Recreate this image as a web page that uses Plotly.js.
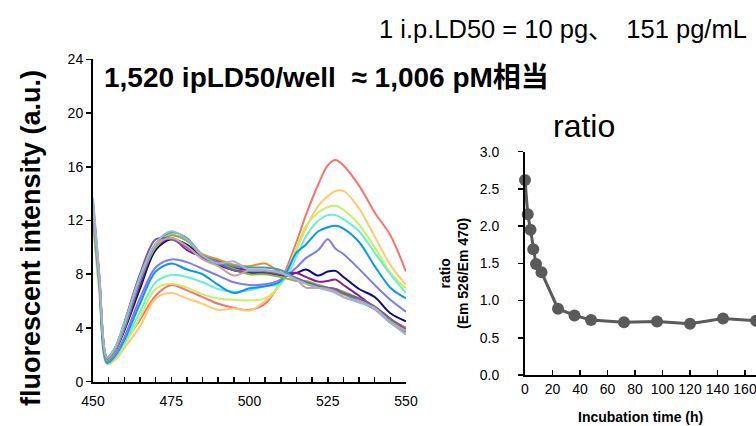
<!DOCTYPE html>
<html><head><meta charset="utf-8">
<script src="https://cdn.plot.ly/plotly-3.0.1.min.js"></script>
<style>html,body{margin:0;padding:0;background:#fff}#chart{width:756px;height:426px}</style>
</head><body><div id="chart"></div>
<script>
// ---- spectra (left panel) ----
const wavelength = [450, 452, 454.5, 457, 460, 465, 470, 475, 480, 485, 490, 495, 500, 505, 510, 515, 518, 522, 525, 527.5, 530, 535, 540, 545, 550];
const spec_0h   = [12.4, 7.0, 1.5, 1.9, 2.9, 4.6, 6.4, 7.2, 6.8, 6.3, 5.8, 5.5, 5.35, 5.8, 7.5, 10.4, 12.4, 14.7, 16.1, 16.5, 16.1, 14.6, 12.6, 10.9, 8.2];
const spec_2h   = [12.0, 6.8, 1.3, 1.6, 2.5, 4.1, 6.2, 6.6, 6.2, 5.8, 5.35, 5.45, 5.3, 6.0, 7.3, 9.8, 11.4, 13.1, 13.8, 14.2, 14.2, 12.9, 10.8, 8.7, 7.2];
const spec_4h   = [11.8, 6.7, 1.3, 1.7, 2.7, 4.8, 6.9, 7.3, 7.0, 6.5, 6.2, 6.1, 6.05, 6.2, 7.3, 10.0, 11.6, 12.6, 13.0, 13.1, 12.8, 11.7, 10.0, 8.1, 6.95];
const spec_6h   = [12.2, 7.0, 1.4, 1.8, 2.9, 5.2, 7.4, 7.95, 7.8, 7.4, 6.9, 6.7, 6.8, 7.1, 7.3, 9.3, 10.8, 12.0, 12.4, 12.4, 12.1, 11.2, 9.6, 8.0, 6.6];
const spec_8h   = [12.8, 7.3, 1.4, 1.9, 3.1, 5.8, 8.2, 8.8, 8.35, 8.0, 7.2, 6.6, 6.95, 7.1, 7.5, 9.6, 10.2, 11.2, 11.5, 11.6, 11.4, 10.4, 8.6, 7.0, 6.2];
const spec_12h  = [13.0, 7.5, 1.5, 2.0, 3.3, 6.2, 8.5, 9.1, 8.9, 8.4, 7.9, 7.4, 7.2, 7.25, 7.6, 8.5, 9.2, 9.8, 10.6, 9.9, 9.5, 8.4, 7.2, 6.1, 5.2];
const spec_24h  = [13.3, 7.9, 1.7, 2.3, 3.8, 6.9, 9.8, 10.6, 10.2, 9.3, 8.7, 8.3, 8.1, 8.1, 7.9, 8.1, 8.35, 7.9, 8.2, 8.25, 7.8, 6.9, 6.3, 5.1, 4.5];
const spec_36h  = [13.0, 7.7, 1.7, 2.3, 3.9, 7.2, 10.0, 10.7, 9.8, 9.3, 9.0, 8.5, 8.3, 8.2, 8.0, 8.1, 7.8, 7.45, 7.5, 7.6, 7.2, 6.4, 5.5, 4.6, 4.0];
const spec_48h  = [13.2, 7.9, 1.8, 2.5, 4.3, 7.9, 10.0, 10.9, 10.5, 9.5, 9.1, 8.7, 8.6, 8.8, 8.1, 7.7, 7.3, 7.0, 6.9, 6.7, 6.5, 6.0, 5.4, 4.6, 4.0];
const spec_72h  = [12.0, 7.2, 1.6, 2.3, 4.0, 7.5, 10.0, 10.9, 10.5, 9.3, 8.8, 8.4, 8.0, 8.0, 7.8, 7.5, 7.5, 7.2, 7.0, 6.9, 6.7, 6.2, 5.6, 4.6, 3.8];
const spec_96h  = [12.6, 7.5, 1.7, 2.4, 4.1, 7.6, 10.2, 11.1, 10.7, 9.4, 8.9, 8.6, 8.5, 8.5, 8.3, 7.7, 7.4, 7.1, 6.9, 6.8, 6.6, 6.0, 5.4, 4.4, 3.7];
const spec_120h = [13.0, 7.7, 1.8, 2.5, 4.4, 8.0, 10.6, 10.6, 10.0, 9.2, 8.8, 8.3, 8.2, 8.2, 8.0, 7.7, 7.4, 7.1, 7.0, 6.9, 6.6, 6.2, 5.6, 4.7, 3.9];
const spec_144h = [12.8, 7.6, 1.8, 2.5, 4.3, 7.8, 10.2, 10.7, 10.1, 9.1, 8.6, 7.9, 8.3, 8.3, 8.1, 7.6, 7.0, 7.0, 6.9, 6.7, 6.3, 6.0, 5.4, 4.4, 3.8];
const spec_168h = [13.7, 8.1, 1.8, 2.5, 4.3, 7.8, 10.3, 11.2, 10.6, 9.4, 8.8, 8.95, 8.3, 8.3, 8.1, 7.6, 7.3, 7.0, 6.8, 6.6, 6.3, 5.9, 5.5, 4.4, 3.5];

const seriesNames = ['0 h','2 h','4 h','6 h','8 h','12 h','24 h','36 h','48 h','72 h','96 h','120 h','144 h','168 h'];
const seriesData = [spec_0h, spec_2h, spec_4h, spec_6h, spec_8h, spec_12h, spec_24h, spec_36h, spec_48h, spec_72h, spec_96h, spec_120h, spec_144h, spec_168h];
const seriesColors = ['#f7736c','#ffc872','#c6f064','#66f0cc','#0a96f0','#7b7bf2','#0c0c8a','#8c1e8c','#f08a2a','#8cb43e','#3ea2b6','#7a5c9c','#c9a2a2','#9ab6d6'];

// ---- ratio (right panel) ----
const incubationTime = [0, 2, 4, 6, 8, 12, 24, 36, 48, 72, 96, 120, 144, 168];
const ratioValues = [2.62, 2.16, 1.95, 1.69, 1.49, 1.38, 0.89, 0.80, 0.74, 0.71, 0.72, 0.69, 0.76, 0.73];

const W = 756, H = 426;
const px = x => x / W, py = y => 1 - y / H;
const FONT = 'Liberation Sans, Arial, Helvetica, Noto Sans CJK JP, sans-serif';

const traces = seriesData.map((d, i) => ({
  x: wavelength, y: d, type: 'scatter', mode: 'lines', name: seriesNames[i],
  line: {color: seriesColors[i], width: 2, shape: 'spline', smoothing: 0.9},
  xaxis: 'x', yaxis: 'y', hoverinfo: 'skip'
}));
traces.push({
  x: incubationTime, y: ratioValues, type: 'scatter', mode: 'lines+markers', name: 'ratio',
  line: {color: '#5a5a5a', width: 3}, marker: {color: '#5a5a5a', size: 12},
  xaxis: 'x2', yaxis: 'y2', cliponaxis: false
});

const axisCommon = {showgrid: false, zeroline: false, showline: true, linecolor: '#000', linewidth: 2,
  tickcolor: '#000', tickwidth: 1.5, tickfont: {family: FONT, size: 14, color: '#000'}, fixedrange: true,
  ticklabeloverflow: 'allow'};

const layout = {
  width: W, height: H, margin: {l: 0, r: 0, t: 0, b: 0},
  paper_bgcolor: '#fff', plot_bgcolor: '#fff', showlegend: false,
  font: {family: FONT, color: '#000'},
  xaxis: Object.assign({}, axisCommon, {domain: [px(93), px(406)], range: [450, 550], tickvals: [450, 475, 500, 525, 550],
    ticks: 'inside', ticklen: 5, ticklabelstandoff: 5,
    minor: {dtick: 5, tick0: 450, ticks: 'inside', ticklen: 5, tickcolor: '#000', tickwidth: 1.5}, anchor: 'y'}),
  yaxis: Object.assign({}, axisCommon, {domain: [py(381.7), py(59.3)], range: [0, 24], dtick: 4, tick0: 0,
    ticks: 'outside', ticklen: 5, anchor: 'x'}),
  xaxis2: Object.assign({}, axisCommon, {domain: [px(525), 1], range: [0, 168], dtick: 20, tick0: 0,
    ticks: 'inside', ticklen: 5, anchor: 'y2'}),
  yaxis2: Object.assign({}, axisCommon, {domain: [py(375), py(151.7)], range: [0, 3], dtick: 0.5, tick0: 0,
    tickformat: '.1f', ticks: 'outside', ticklen: 5, ticklabelstandoff: 16, anchor: 'x2'}),
  annotations: [
    {xref: 'paper', yref: 'paper', x: px(31), y: py(238), text: '<b>fluorescent intensity (a.u.)</b>', textangle: -90,
      showarrow: false, font: {family: FONT, size: 27, color: '#000'}, xanchor: 'center', yanchor: 'middle'},
    {xref: 'paper', yref: 'paper', x: px(102), y: py(77), text: '<b>1,520 ipLD50/well\u00a0\u00a0≈ 1,006 pM相当</b>',
      showarrow: false, font: {family: FONT, size: 28, color: '#000'}, xanchor: 'left', yanchor: 'middle'},
    {xref: 'paper', yref: 'paper', x: px(377), y: py(29), text: '1 i.p.LD50 = 10 pg、\u3000151 pg/mL',
      showarrow: false, font: {family: FONT, size: 25.5, color: '#000'}, xanchor: 'left', yanchor: 'middle'},
    {xref: 'paper', yref: 'paper', x: px(584), y: py(126), text: 'ratio',
      showarrow: false, font: {family: FONT, size: 32, color: '#000'}, xanchor: 'center', yanchor: 'middle'},
    {xref: 'paper', yref: 'paper', x: px(454), y: py(274), text: '<b>ratio<br>(Em 526/Em 470)</b>', textangle: -90,
      showarrow: false, font: {family: FONT, size: 14, color: '#000'}, xanchor: 'center', yanchor: 'middle'},
    {xref: 'paper', yref: 'paper', x: px(640), y: py(417), text: '<b>Incubation time (h)</b>',
      showarrow: false, font: {family: FONT, size: 14, color: '#000'}, xanchor: 'center', yanchor: 'middle'}
  ]
};

Plotly.newPlot('chart', traces, layout, {staticPlot: true, displayModeBar: false});
</script></body></html>
